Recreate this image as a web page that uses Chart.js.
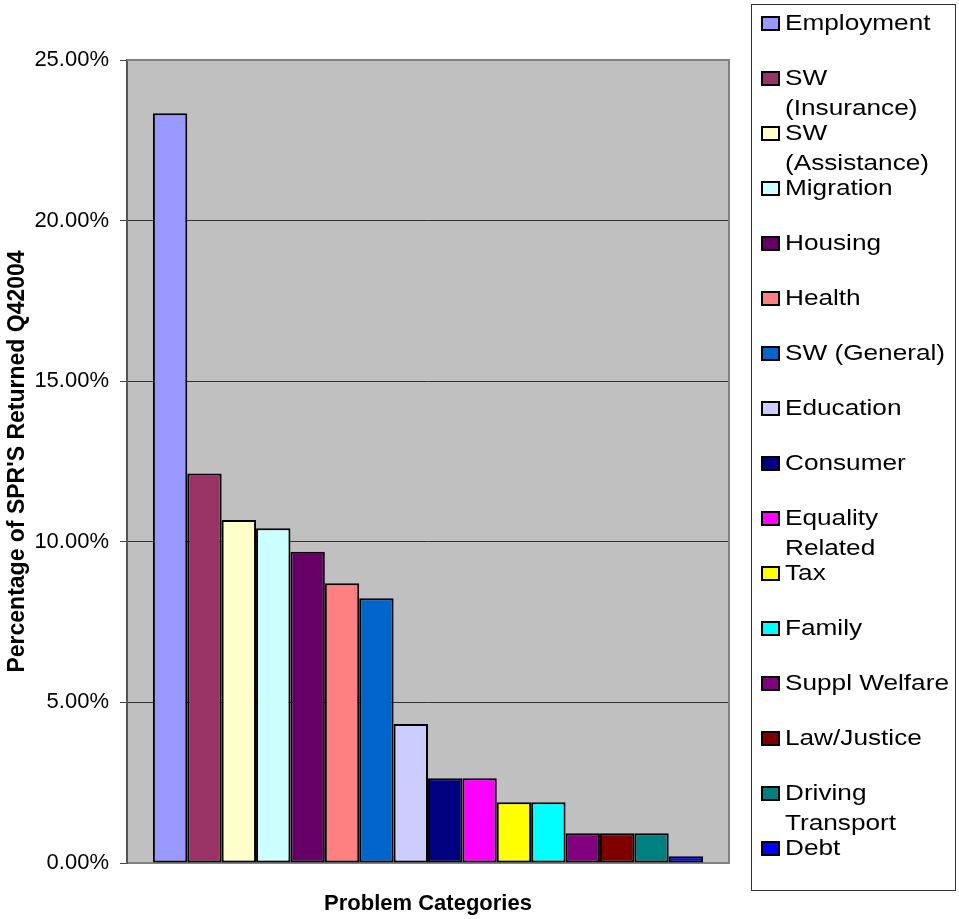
<!DOCTYPE html>
<html>
<head>
<meta charset="utf-8">
<script src="https://cdn.jsdelivr.net/npm/chart.js@4/dist/chart.umd.min.js"></script>
<style>
  body { margin: 0; background: #fff; }
  #wrap { position: relative; width: 959px; height: 919px; }
  #legend {
    position: absolute; left: 751px; top: 4px; width: 205px; height: 887px;
    border: 1px solid #333; box-sizing: border-box;
    font-family: "Liberation Sans", Arial, sans-serif; font-size: 22px; color: #000;
  }
  .item { position: absolute; left: 33px; width: 145px; line-height: 30px; }
  .item span { display: inline-block; transform: scaleX(1.19); transform-origin: left; }
  .box {
    position: absolute; left: -24px; top: 8px; width: 19px; height: 15px;
    border: 2.5px solid #000; box-sizing: border-box;
  }
</style>
</head>
<body>
<div id="wrap">
  <canvas id="chart" width="959" height="919"></canvas>
  <div id="legend"></div>
</div>
<script>
// Problem categories and share of SPRs returned (percent)
var categories = ["Employment", "SW (Insurance)", "SW (Assistance)", "Migration", "Housing",
  "Health", "SW (General)", "Education", "Consumer", "Equality Related", "Tax", "Family",
  "Suppl Welfare", "Law/Justice", "Driving Transport", "Debt"];
var values = [23.34, 12.13, 10.68, 10.42, 9.69, 8.71, 8.24, 4.33, 2.64, 2.64, 1.89, 1.89,
  0.93, 0.93, 0.93, 0.21];
var colors = ["#9999FF", "#993366", "#FFFFCC", "#CCFFFF", "#660066", "#FF8080", "#0066CC",
  "#CCCCFF", "#000080", "#FF00FF", "#FFFF00", "#00FFFF", "#800080", "#800000", "#008080", "#0000FF"];
var yTicks = [0, 5, 10, 15, 20, 25];

// Gray plot background + border
var plotArea = {
  id: "plotArea",
  beforeDraw: function (chart) {
    var a = chart.chartArea, ctx = chart.ctx;
    ctx.save();
    ctx.fillStyle = "#C0C0C0";
    ctx.fillRect(a.left, a.top, a.right - a.left, a.bottom - a.top);
    ctx.restore();
  },
  afterDatasetsDraw: function (chart) {
    var a = chart.chartArea, ctx = chart.ctx;
    ctx.save();
    ctx.strokeStyle = "#808080";
    ctx.lineWidth = 2;
    ctx.beginPath();
    ctx.moveTo(a.left, a.top);
    ctx.lineTo(a.right, a.top);
    ctx.lineTo(a.right, a.bottom);
    ctx.stroke();
    ctx.restore();
  }
};

new Chart(document.getElementById("chart").getContext("2d"), {
  type: "bar",
  data: {
    labels: [""],
    datasets: categories.map(function (c, i) {
      return {
        label: c,
        data: [values[i]],
        backgroundColor: colors[i],
        borderColor: "#000",
        borderWidth: 2,
        borderSkipped: false
      };
    })
  },
  options: {
    responsive: false,
    animation: false,
    categoryPercentage: 0.914,
    barPercentage: 1,
    layout: { padding: { left: 0, top: 60, right: 230, bottom: 0 } },
    plugins: { legend: { display: false }, tooltip: { enabled: false } },
    scales: {
      x: {
        afterFit: function (s) { s.height = 56; },
        ticks: { display: false },
        grid: { display: false, drawTicks: false },
        border: { color: "#808080", width: 2 },
        title: {
          display: true, text: "Problem Categories", color: "#000",
          font: { family: "Liberation Sans, Arial", size: 22, weight: "bold" },
          padding: { top: 4, bottom: 2 }
        }
      },
      y: {
        min: 0, max: 25,
        afterFit: function (s) { s.width = 127; },
        afterBuildTicks: function (s) { s.ticks = yTicks.map(function (v) { return { value: v }; }); },
        ticks: {
          padding: 11, color: "#000",
          font: { family: "Liberation Sans, Arial", size: 22 },
          callback: function (v) { return v.toFixed(2) + "%"; }
        },
        grid: {
          tickLength: 7, tickColor: "#444",
          color: function (c) { return (c.tick.value === 0 || c.tick.value === 25) ? "rgba(0,0,0,0)" : "#333"; }
        },
        border: { color: "#555", width: 2 },
        title: {
          display: true, text: "Percentage of SPR'S Returned Q42004", color: "#000",
          font: { family: "Liberation Sans, Arial", size: 23, weight: "bold" },
          padding: { top: 4, bottom: 4 }
        }
      }
    }
  },
  plugins: [plotArea]
});

// Legend drawn beside the chart, overlapping box like the original
var legend = document.getElementById("legend");
categories.forEach(function (c, i) {
  var item = document.createElement("div");
  item.className = "item";
  item.style.top = (3 + 55 * i) + "px";
  var box = document.createElement("div");
  box.className = "box";
  box.style.background = colors[i];
  var txt = document.createElement("span");
  txt.textContent = c;
  item.appendChild(box);
  item.appendChild(txt);
  legend.appendChild(item);
});
</script>
</body>
</html>
